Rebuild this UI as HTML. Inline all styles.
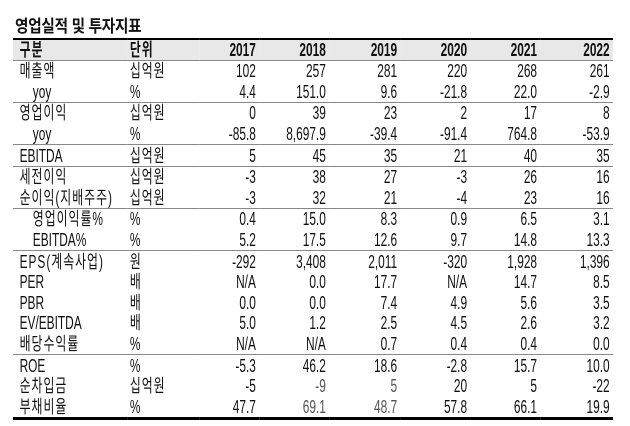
<!DOCTYPE html>
<html><head><meta charset="utf-8"><style>
body{margin:0;background:#fff;width:630px;height:426px;overflow:hidden;position:relative;font-family:"Liberation Sans","Noto Sans CJK KR",sans-serif;color:#111}
.t{position:absolute;left:15px;top:12px;font:bold 17px "Liberation Sans","Noto Sans CJK KR",sans-serif;letter-spacing:-0.3px;transform:scaleX(0.86);transform-origin:left top}
table{position:absolute;left:13px;top:38px;border-collapse:collapse;table-layout:fixed;width:909px;font-size:18px;transform:scaleX(0.66);transform-origin:left top}
td{height:20.6px;padding:0;line-height:20px;white-space:nowrap;overflow:visible}
td.n{text-align:right;padding-right:5px}
td.l{padding-left:10px}
td.u{padding-left:3px}
.k{letter-spacing:1.5px}
tr.h td{background:#e8e8e8;font-weight:bold;border-top:2px solid #000;border-bottom:1px solid #888;height:19px}
tr.s td{border-top:1px solid #888}
tr.last td{border-bottom:3px solid #000}
.i{padding-left:30px!important}
</style></head><body>
<div class="t">영업실적 및 투자지표</div>
<table>
<colgroup><col style="width:174px"><col style="width:109px"><col style="width:90px"><col style="width:106px"><col style="width:108px"><col style="width:106px"><col style="width:106px"><col style="width:110px"></colgroup>
<tr class="h"><td class="l k">구분</td><td class="u k">단위</td><td class="n">2017</td><td class="n">2018</td><td class="n">2019</td><td class="n">2020</td><td class="n">2021</td><td class="n">2022</td></tr>
<tr><td class="l k">매출액</td><td class="u k">십억원</td><td class="n">102</td><td class="n">257</td><td class="n">281</td><td class="n">220</td><td class="n">268</td><td class="n">261</td></tr>
<tr><td class="l i">yoy</td><td class="u">%</td><td class="n">4.4</td><td class="n">151.0</td><td class="n">9.6</td><td class="n">-21.8</td><td class="n">22.0</td><td class="n">-2.9</td></tr>
<tr class="s"><td class="l k">영업이익</td><td class="u k">십억원</td><td class="n">0</td><td class="n">39</td><td class="n">23</td><td class="n">2</td><td class="n">17</td><td class="n">8</td></tr>
<tr><td class="l i">yoy</td><td class="u">%</td><td class="n">-85.8</td><td class="n">8,697.9</td><td class="n">-39.4</td><td class="n">-91.4</td><td class="n">764.8</td><td class="n">-53.9</td></tr>
<tr class="s"><td class="l">EBITDA</td><td class="u k">십억원</td><td class="n">5</td><td class="n">45</td><td class="n">35</td><td class="n">21</td><td class="n">40</td><td class="n">35</td></tr>
<tr class="s"><td class="l k">세전이익</td><td class="u k">십억원</td><td class="n">-3</td><td class="n">38</td><td class="n">27</td><td class="n">-3</td><td class="n">26</td><td class="n">16</td></tr>
<tr><td class="l k">순이익(지배주주)</td><td class="u k">십억원</td><td class="n">-3</td><td class="n">32</td><td class="n">21</td><td class="n">-4</td><td class="n">23</td><td class="n">16</td></tr>
<tr class="s"><td class="l i k">영업이익률%</td><td class="u">%</td><td class="n">0.4</td><td class="n">15.0</td><td class="n">8.3</td><td class="n">0.9</td><td class="n">6.5</td><td class="n">3.1</td></tr>
<tr><td class="l i">EBITDA%</td><td class="u">%</td><td class="n">5.2</td><td class="n">17.5</td><td class="n">12.6</td><td class="n">9.7</td><td class="n">14.8</td><td class="n">13.3</td></tr>
<tr class="s"><td class="l k">EPS(계속사업)</td><td class="u k">원</td><td class="n">-292</td><td class="n">3,408</td><td class="n">2,011</td><td class="n">-320</td><td class="n">1,928</td><td class="n">1,396</td></tr>
<tr><td class="l">PER</td><td class="u k">배</td><td class="n">N/A</td><td class="n">0.0</td><td class="n">17.7</td><td class="n">N/A</td><td class="n">14.7</td><td class="n">8.5</td></tr>
<tr><td class="l">PBR</td><td class="u k">배</td><td class="n">0.0</td><td class="n">0.0</td><td class="n">7.4</td><td class="n">4.9</td><td class="n">5.6</td><td class="n">3.5</td></tr>
<tr><td class="l">EV/EBITDA</td><td class="u k">배</td><td class="n">5.0</td><td class="n">1.2</td><td class="n">2.5</td><td class="n">4.5</td><td class="n">2.6</td><td class="n">3.2</td></tr>
<tr><td class="l k">배당수익률</td><td class="u">%</td><td class="n">N/A</td><td class="n">N/A</td><td class="n">0.7</td><td class="n">0.4</td><td class="n">0.4</td><td class="n">0.0</td></tr>
<tr class="s"><td class="l">ROE</td><td class="u">%</td><td class="n">-5.3</td><td class="n">46.2</td><td class="n">18.6</td><td class="n">-2.8</td><td class="n">15.7</td><td class="n">10.0</td></tr>
<tr><td class="l k">순차입금</td><td class="u k">십억원</td><td class="n">-5</td><td class="n" style="color:#555">-9</td><td class="n" style="color:#555">5</td><td class="n">20</td><td class="n">5</td><td class="n">-22</td></tr>
<tr class="last"><td class="l k">부채비율</td><td class="u">%</td><td class="n">47.7</td><td class="n" style="color:#555">69.1</td><td class="n" style="color:#555">48.7</td><td class="n">57.8</td><td class="n">66.1</td><td class="n">19.9</td></tr>
</table>
</body></html>
